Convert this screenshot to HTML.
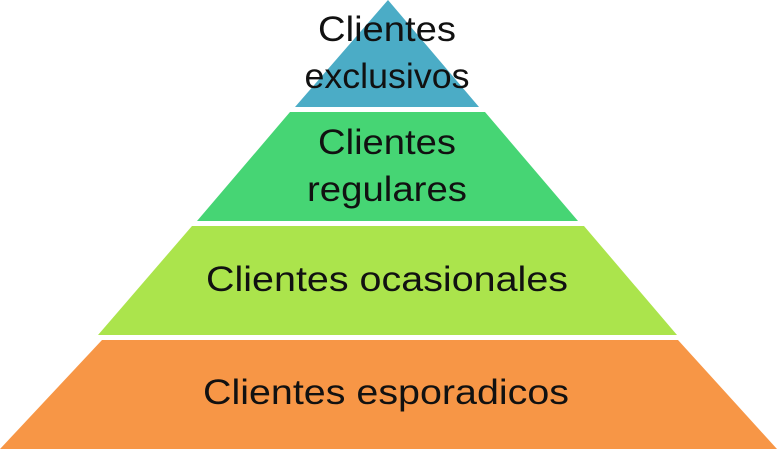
<!DOCTYPE html>
<html><head><meta charset="utf-8"><style>
html,body{margin:0;padding:0;background:#fff;width:777px;height:449px;overflow:hidden}
text{font-family:"Liberation Sans",sans-serif;font-size:35px;fill:#111;text-anchor:middle}
</style></head><body>
<svg width="777" height="449" viewBox="0 0 777 449" xmlns="http://www.w3.org/2000/svg">
<polygon points="388,0 479,107 295,107" fill="#4bacc6"/>
<polygon points="290,112 485,112 578,221 197,221" fill="#46d574"/>
<polygon points="192,226 584,226 677,335 98,335" fill="#abe44c"/>
<polygon points="102,340 678,340 777,449 0,449" fill="#f79646"/>
<text x="387" y="41" textLength="138" lengthAdjust="spacingAndGlyphs">Clientes</text>
<text x="387" y="88" textLength="165" lengthAdjust="spacingAndGlyphs">exclusivos</text>
<text x="387" y="154" textLength="138" lengthAdjust="spacingAndGlyphs">Clientes</text>
<text x="387" y="201" textLength="160" lengthAdjust="spacingAndGlyphs">regulares</text>
<text x="387" y="291" textLength="362" lengthAdjust="spacingAndGlyphs">Clientes ocasionales</text>
<text x="386" y="404" textLength="366" lengthAdjust="spacingAndGlyphs">Clientes esporadicos</text>
</svg>
</body></html>
